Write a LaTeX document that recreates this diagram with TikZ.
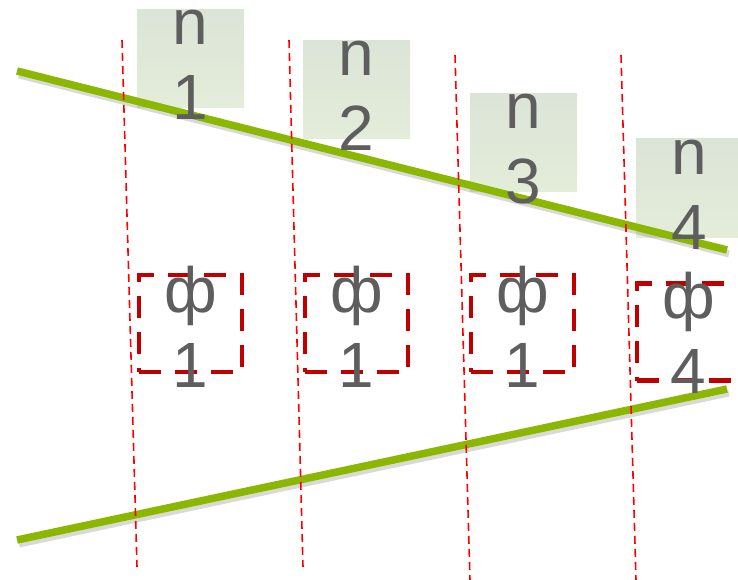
\documentclass[tikz,border=0pt]{standalone}
\usepackage{fontspec}
\setmainfont{Liberation Sans}
\usetikzlibrary{positioning}
\definecolor{leaf}{RGB}{139,183,0}
\definecolor{mintA}{RGB}{219,228,215}
\definecolor{mintB}{RGB}{228,237,217}
\definecolor{darkred}{RGB}{192,0,0}
\definecolor{inkgray}{RGB}{94,94,94}

\begin{document}
\begin{tikzpicture}[x=1pt,y=-1pt,
  every node/.style={inner sep=0pt,outer sep=0pt},
  nbox/.style={top color=mintA,bottom color=mintB,minimum width=107pt,minimum height=98pt},
  phibox/.style={draw=darkred,line width=4.5pt,dash pattern=on 22pt off 14pt,minimum width=103pt,minimum height=97pt},
  lbl/.style={font=\fontsize{64}{75}\selectfont,text=inkgray,align=center,anchor=base},
  rail/.style={leaf,line width=7.5pt},
  railshadow/.style={black,line width=7pt,opacity=0.15},
  cut/.style={red,line width=1.6pt,dash pattern=on 8pt off 5pt}]
\useasboundingbox (0,0) rectangle (738,580);
% shaded boxes on top
\node[nbox] (n1) at (190.5,59) {};
\node[nbox] (n2) at (356.5,89.5) {};
\node[nbox] (n3) at (523.5,142.5) {};
\node[nbox] (n4) at (689.5,188) {};
% the two green rails, with a soft shadow
\coordinate (tl) at (17,71);  \coordinate (tr) at (727,250);
\coordinate (bl) at (17,540); \coordinate (br) at (727,389);
\draw[railshadow] ([shift={(2pt,-4pt)}]tl) -- ([shift={(2pt,-4pt)}]tr);
\draw[railshadow] ([shift={(2pt,-4pt)}]bl) -- ([shift={(2pt,-4pt)}]br);
\draw[rail] (tl) -- (tr);
\draw[rail] (bl) -- (br);
% red cut lines
\coordinate (c1a) at (122,40); \coordinate (c1b) at (137,567);
\coordinate (c2a) at (289,40); \coordinate (c2b) at (303,567);
\coordinate (c3a) at (455,55); \coordinate (c3b) at (470,580);
\coordinate (c4a) at (621,55); \coordinate (c4b) at (636,580);
\draw[cut] (c1a) -- (c1b);
\draw[cut] (c2a) -- (c2b);
\draw[cut] (c3a) -- (c3b);
\draw[cut] (c4a) -- (c4b);
% dashed boxes
\node[phibox] (p1) at (190.5,323.5) {};
\node[phibox] (p2) at (356.5,323.5) {};
\node[phibox] (p3) at (522.5,323.5) {};
\node[phibox] (p4) at (688.5,332) {};
% labels (base = last line)
\node[lbl] (ln1) at ([yshift=-110pt]n1.north) {n\\1};
\node[lbl] (ln2) at ([yshift=-110pt]n2.north) {n\\2};
\node[lbl] (ln3) at ([yshift=-110pt]n3.north) {n\\3};
\node[lbl] (ln4) at ([yshift=-110pt]n4.north) {n\\4};
\node[lbl] (lp1) at ([yshift=-112pt]p1.north) {ф\\1};
\node[lbl] (lp2) at ([yshift=-112pt]p2.north) {ф\\1};
\node[lbl] (lp3) at ([yshift=-112pt]p3.north) {ф\\1};
\node[lbl] (lp4) at ([yshift=-110pt]p4.north) {ф\\4};
\end{tikzpicture}
\end{document}
